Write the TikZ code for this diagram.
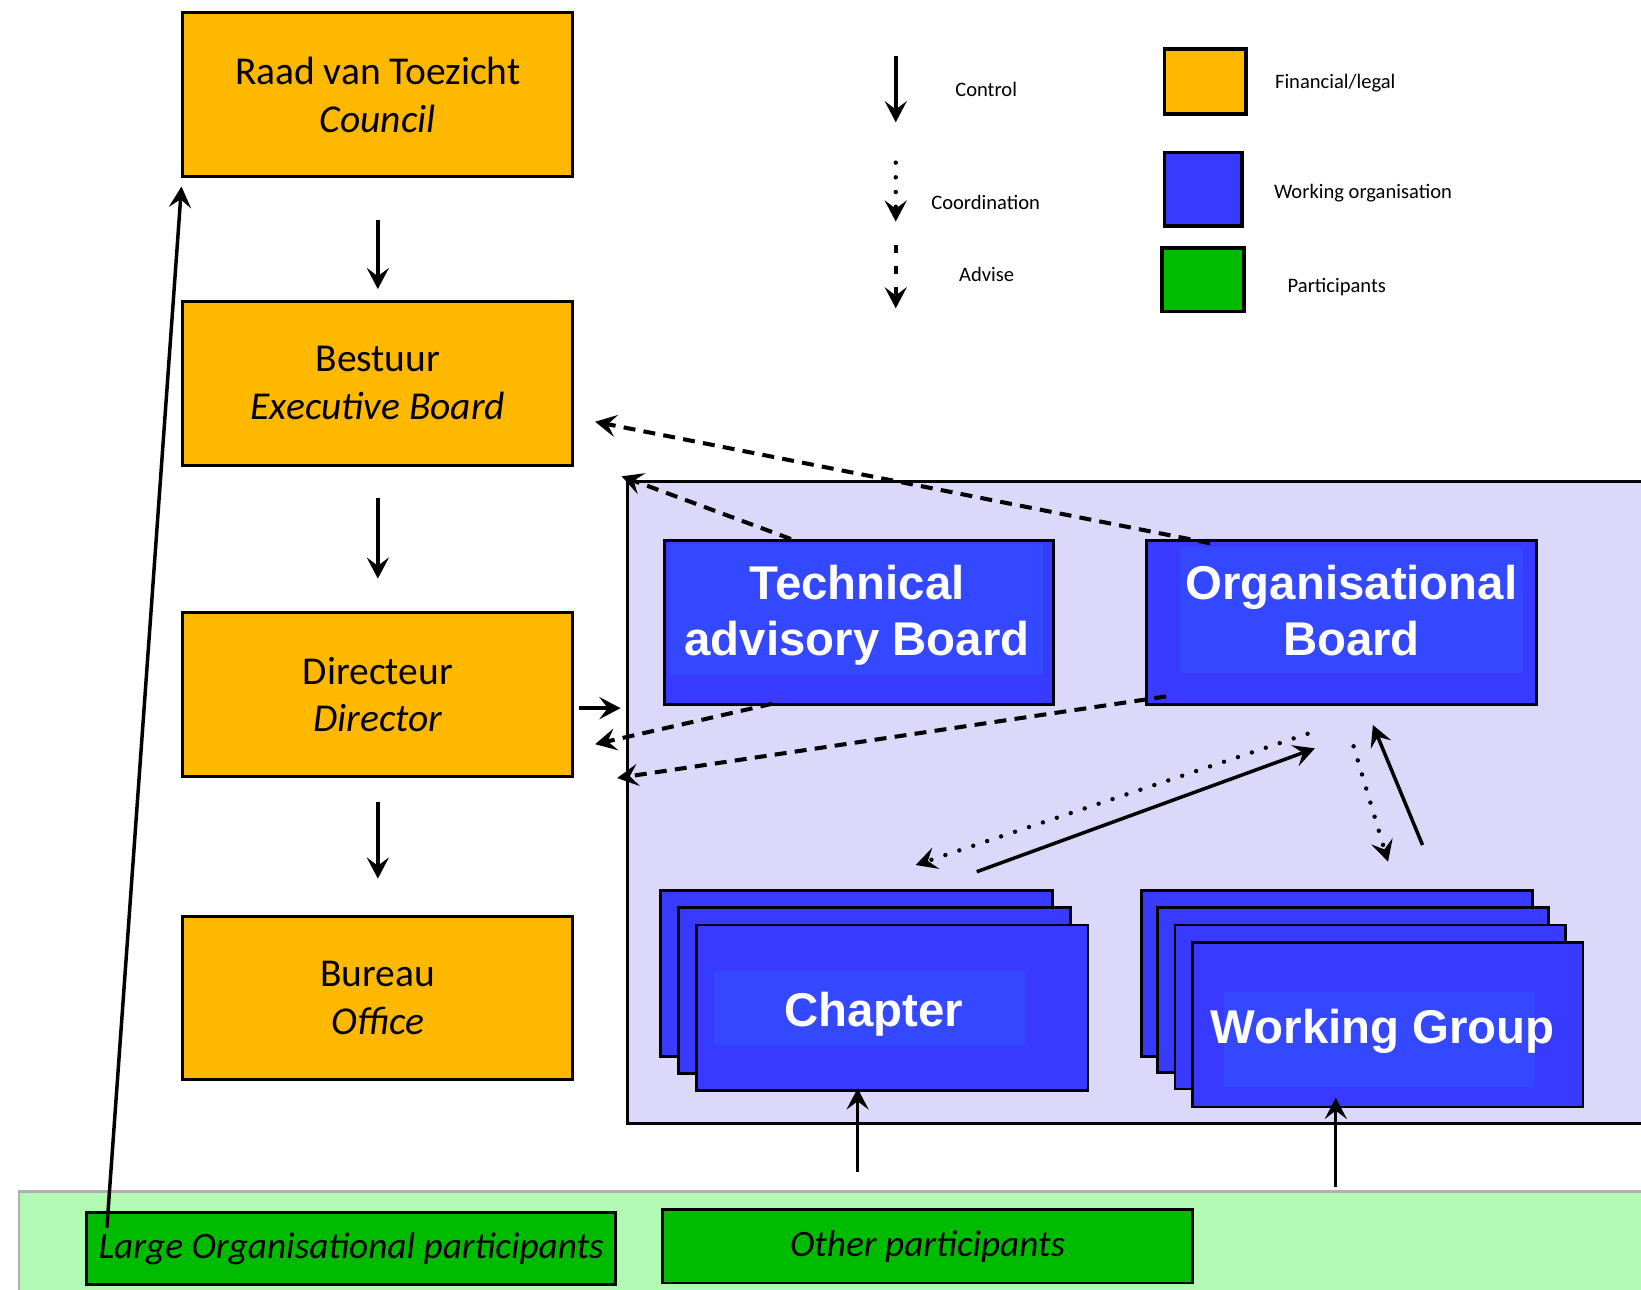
\documentclass[tikz,border=0pt]{standalone}
\usepackage{fontspec}
\setmainfont{Carlito}
\newfontfamily\arialf{Liberation Sans}
\usetikzlibrary{arrows.meta,calc}
\definecolor{cOrange}{RGB}{255,184,0}
\definecolor{cBlue}{RGB}{56,58,255}
\definecolor{cBlueIn}{RGB}{51,72,255}
\definecolor{cLav}{RGB}{220,216,249}
\definecolor{cGreen}{RGB}{0,187,0}
\definecolor{cBand}{RGB}{178,249,180}
\definecolor{cBandLine}{RGB}{176,176,176}
\tikzset{
  obox/.style={draw, line width=1.6pt, fill=cOrange, minimum width=7.46cm, minimum height=3.14cm, inner sep=0pt,
    font=\fontsize{21.5}{26}\selectfont, align=center},
  bbox/.style={draw, line width=1.5pt, fill=cBlue, minimum width=7.46cm, minimum height=3.16cm, inner sep=0pt},
  btext/.style={font=\arialf\bfseries\fontsize{25.8}{30.6}\selectfont, text=white, align=center, inner sep=0pt},
  gbox/.style={draw, line width=1.5pt, fill=cGreen, minimum width=10.12cm, minimum height=1.38cm, inner sep=0pt,
    font=\itshape\fontsize{20.3}{26}\selectfont},
  legtext/.style={font=\fontsize{11.2}{13}\selectfont, inner sep=0pt},
  legbox/.style={draw, line width=2pt, inner sep=0pt},
  tip/.style={-{Stealth[length=11.5pt,width=12pt,inset=4.5pt]}},
  ctrlarrow/.style={line width=1.9pt, tip},
  thinarrow/.style={line width=1.6pt, tip},
  advarrow/.style={line width=2.2pt, dash pattern=on 6.5pt off 4.5pt, tip},
  coordarrow/.style={line width=2.4pt, line cap=round, dash pattern=on 0pt off 8pt, tip},
}
\begin{document}
\begin{tikzpicture}[x=0.02cm,y=-0.02cm]
\useasboundingbox (0,0) rectangle (1570,1234);
\fill[white] (0,0) rectangle (1570,1234);

% participants band
\node[draw=cBandLine, line width=1.2pt, fill=cBand, minimum width=31.64cm, minimum height=2.4cm, inner sep=0pt] (band) at (809,1200) {};
\node[gbox] (lop) at (336,1194.5) {Large Organisational participants};
\node[gbox, minimum width=10.14cm, minimum height=1.4cm] (op) at (887.5,1192.5) {Other participants};

% working organisation panel
\node[draw, line width=1.6pt, fill=cLav, minimum width=20cm, minimum height=12.28cm, inner sep=0pt] (panel) at (1100,768) {};

% financial/legal column
\node[obox] (raad) at (361.5,90.5) {Raad van Toezicht\\\textit{Council}};
\node[obox] (best) at (361.5,366.5) {Bestuur\\\textit{Executive Board}};
\node[obox] (dir) at (361.5,664.5) {Directeur\\\textit{Director}};
\node[obox, minimum height=3.12cm] (bur) at (361.5,955) {Bureau\\\textit{Office}};

% boards
\node[bbox, minimum width=7.44cm, minimum height=3.14cm] (tab) at (822,595.5) {};
\fill[cBlueIn] (640,520) rectangle (998,646);
\node[btext] (tabt) at (820,589) {Technical\\advisory Board};
\node[bbox, minimum height=3.14cm] (ob) at (1283.5,595.5) {};
\fill[cBlueIn] (1129,523) rectangle (1457,644);
\node[btext] (obt) at (1293,584) {Organisational\\Board};

% chapter stack
\node[bbox, minimum width=7.5cm, minimum height=3.18cm] (ch1) at (819.5,931.5) {};
\node[bbox, minimum width=7.5cm, minimum height=3.18cm] (ch2) at (836.5,947.5) {};
\node[bbox, minimum width=7.5cm, minimum height=3.16cm] (ch3) at (853.5,964) {};
\fill[cBlueIn] (683,929) rectangle (981,1000);
\node[btext] (cht) at (836,970) {Chapter};

% working group stack
\node[bbox, minimum width=7.48cm, minimum height=3.18cm] (wg1) at (1279,931.5) {};
\node[bbox, minimum width=7.48cm, minimum height=3.16cm] (wg2) at (1294.5,947) {};
\node[bbox, minimum width=7.48cm, minimum height=3.14cm] (wg3) at (1311,963.5) {};
\node[bbox, minimum width=7.48cm, minimum height=3.14cm] (wg4) at (1327.5,980.5) {};
\fill[cBlueIn] (1171,949) rectangle (1469,1040);
\node[btext] (wgt) at (1323,987) {Working Group};

% control arrows
\draw[ctrlarrow, shorten <=0.8cm, shorten >=0.2cm] (raad.south) -- (best.north);
\draw[ctrlarrow, shorten <=0.6cm, shorten >=0.62cm] (best.south) -- (dir.north);
\draw[ctrlarrow, shorten <=0.46cm, shorten >=0.7cm] (dir.south) -- (bur.north);
\coordinate (d1) at ($(dir.east)+(5,13)$);
\draw[ctrlarrow, shorten >=0.1cm] (d1) -- (d1 -| panel.west);
\coordinate (l1) at ($(lop.north west)+(20.5,16)$);
\coordinate (r1) at ($(raad.south west)+(0,8)$);
\draw[ctrlarrow] (l1) -- (r1);
\coordinate (c0) at (820.5,1121);
\coordinate (c1) at ($(c0 |- ch3.south)+(0,-3)$);
\draw[thinarrow] (c0) -- (c1);
\coordinate (w0) at (1278,1135.7);
\coordinate (w1) at ($(w0 |- wg4.south)+(0,-10)$);
\draw[thinarrow] (w0) -- (w1);

% advise arrows
\coordinate (a1s) at ($(tab.north west)+(122,0)$);
\coordinate (a1e) at ($(panel.north west)+(-4,-4)$);
\draw[advarrow] (a1s) -- (a1e);
\coordinate (a2s) at ($(ob.north west)+(62,4)$);
\coordinate (a2e) at ($(best.east)+(20,37)$);
\draw[advarrow] (a2s) -- (a2e);
\coordinate (a3s) at ($(tab.south west)+(104,-2)$);
\coordinate (a3e) at ($(dir.east)+(20,47.5)$);
\draw[advarrow] (a3s) -- (a3e);
\coordinate (a4s) at ($(ob.south west)+(20,-9)$);
\coordinate (a4e) at ($(dir.south east)+(41,0)$);
\draw[advarrow] (a4s) -- (a4e);

% coordination / control between board and groups
\coordinate (k1s) at (1251,702);
\coordinate (k1e) at (876,827.6);
\draw[coordarrow] (k1s) -- (k1e);
\coordinate (k2s) at (934.5,834);
\coordinate (k2e) at (1258,716);
\draw[ctrlarrow] (k2s) -- (k2e);
\coordinate (k3s) at (1295,714);
\coordinate (k3e) at (1328,824.4);
\draw[coordarrow] (k3s) -- (k3e);
\coordinate (k4s) at (1361,808.5);
\coordinate (k4e) at (1313.5,693.6);
\draw[ctrlarrow] (k4s) -- (k4e);

% legend
\coordinate (g1s) at (857,54);
\coordinate (g1e) at (857,117);
\draw[ctrlarrow] (g1s) -- (g1e);
\node[legtext] (lg1) at (943.5,85.5) {Control};
\coordinate (g2s) at (857,155.6);
\coordinate (g2e) at (857,212);
\draw[coordarrow] (g2s) -- (g2e);
\node[legtext] (lg2) at (943,194) {Coordination};
\coordinate (g3s) at (857,234.5);
\coordinate (g3e) at (857,295);
\draw[line width=2.4pt, dash pattern=on 4.25pt off 7.1pt, tip] (g3s) -- (g3e);
\node[legtext] (lg3) at (944,263) {Advise};
\node[legbox, fill=cOrange, minimum width=1.56cm, minimum height=1.24cm] (sq1) at (1153,78) {};
\node[legtext] (lt1) at (1277.5,79.6) {Financial/legal};
\node[legbox, fill=cBlue, minimum width=1.48cm, minimum height=1.4cm] (sq2) at (1151,181) {};
\node[legtext] (lt2) at (1304,185) {Working organisation};
\node[legbox, fill=cGreen, minimum width=1.56cm, minimum height=1.21cm] (sq3) at (1151,267.75) {};
\node[legtext] (lt3) at (1279,274.7) {Participants};
\end{tikzpicture}
\end{document}
